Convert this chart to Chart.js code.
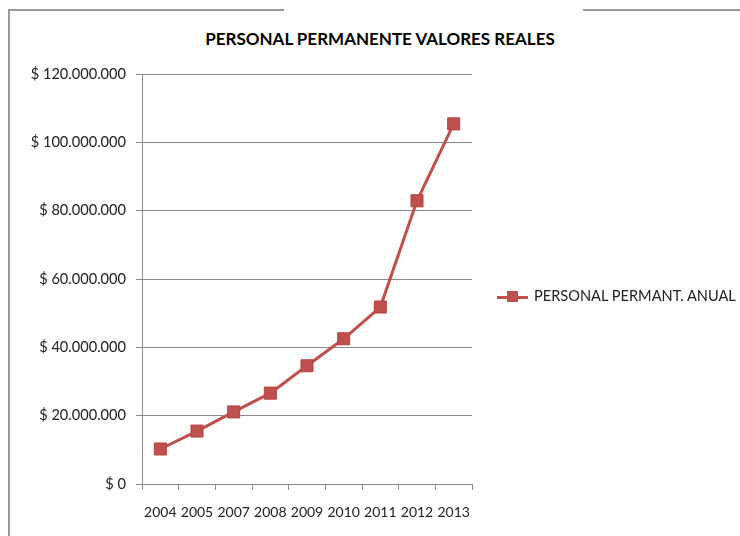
<!DOCTYPE html>
<html>
<head>
<meta charset="utf-8">
<script src="https://cdn.jsdelivr.net/npm/chart.js@4"></script>
<style>
  body{margin:0;background:#fff;}
  #wrap{position:relative;width:740px;height:536px;overflow:hidden;font-family:Lato,"Open Sans",sans-serif;}
  .linea{position:absolute;background:#9a9a9a;}
  #titulo{position:absolute;left:0;width:760px;top:28px;text-align:center;font-weight:bold;font-size:17px;color:#000;}
  #leyenda{position:absolute;left:497px;top:287px;font-size:14.6px;color:#222;white-space:nowrap;}
  #leyenda .mk{display:inline-block;position:relative;width:31px;height:20px;vertical-align:middle;margin-right:6px;}
  #leyenda .mk i{position:absolute;left:0;top:9px;width:31px;height:3px;}
  #leyenda .mk b{position:absolute;left:10px;top:4px;width:11px;height:11px;}
  canvas{position:absolute;left:0;top:0;}
</style>
</head>
<body>
<div id="wrap">
  <div class="linea" style="left:9px;top:9px;width:275px;height:2px"></div>
  <div class="linea" style="left:583px;top:9px;width:157px;height:2px"></div>
  <div class="linea" style="left:8px;top:9px;width:2px;height:527px"></div>
  <div id="titulo">PERSONAL PERMANENTE VALORES REALES</div>
  <canvas id="grafico" width="740" height="536"></canvas>
  <div id="leyenda"></div>
</div>
<script>
// datos
var anios = ['2004','2005','2007','2008','2009','2010','2011','2012','2013']
var personalAnual = [10250000, 15500000, 21100000, 26600000, 34600000, 42500000, 51800000, 82900000, 105400000]
var nombreSerie = 'PERSONAL PERMANT. ANUAL'
var colorSerie = '#C0504D'

var formatoPesos = function(v){
    var s = Math.round(v).toString().replace(/\B(?=(\d{3})+(?!\d))/g, '.')
    return '$ ' + s
}

var ctx = document.getElementById('grafico').getContext('2d')
var chart = new Chart(ctx, {
    type: 'line',
    data: {
        labels: anios,
        datasets: [{
            label: nombreSerie,
            data: personalAnual,
            borderColor: colorSerie,
            backgroundColor: colorSerie,
            borderWidth: 3,
            pointStyle: 'rect',
            pointRadius: 8.5,
            pointBorderWidth: 1,
            pointBorderColor: '#b8403d',
            tension: 0
        }]
    },
    options: {
        responsive: false,
        animation: false,
        layout: { padding: { left: 0, top: 74, right: 268, bottom: 0 } },
        plugins: { legend: { display: false }, tooltip: { enabled: false } },
        scales: {
            x: {
                offset: true,
                grid: { display: true, drawOnChartArea: false, offset: true, tickLength: 6, color: '#8a8a8a' },
                border: { color: '#8a8a8a' },
                ticks: { color: '#222', font: { family: 'Lato', size: 14 }, padding: 14, maxRotation: 0, autoSkip: false },
                afterFit: function(s){ s.height = 52 }
            },
            y: {
                min: 0,
                max: 120000000,
                grid: { color: '#8a8a8a', tickLength: 6 },
                border: { color: '#8a8a8a' },
                ticks: { stepSize: 20000000, color: '#222', font: { family: 'Lato', size: 14.6 }, padding: 10, callback: formatoPesos },
                afterFit: function(s){ s.width = 142 }
            }
        }
    }
})

// leyenda en html
var ley = document.getElementById('leyenda')
ley.innerHTML = '<span class="mk"><i style="background:' + colorSerie + '"></i><b style="background:' + colorSerie + '"></b></span>' + nombreSerie
</script>
</body>
</html>
